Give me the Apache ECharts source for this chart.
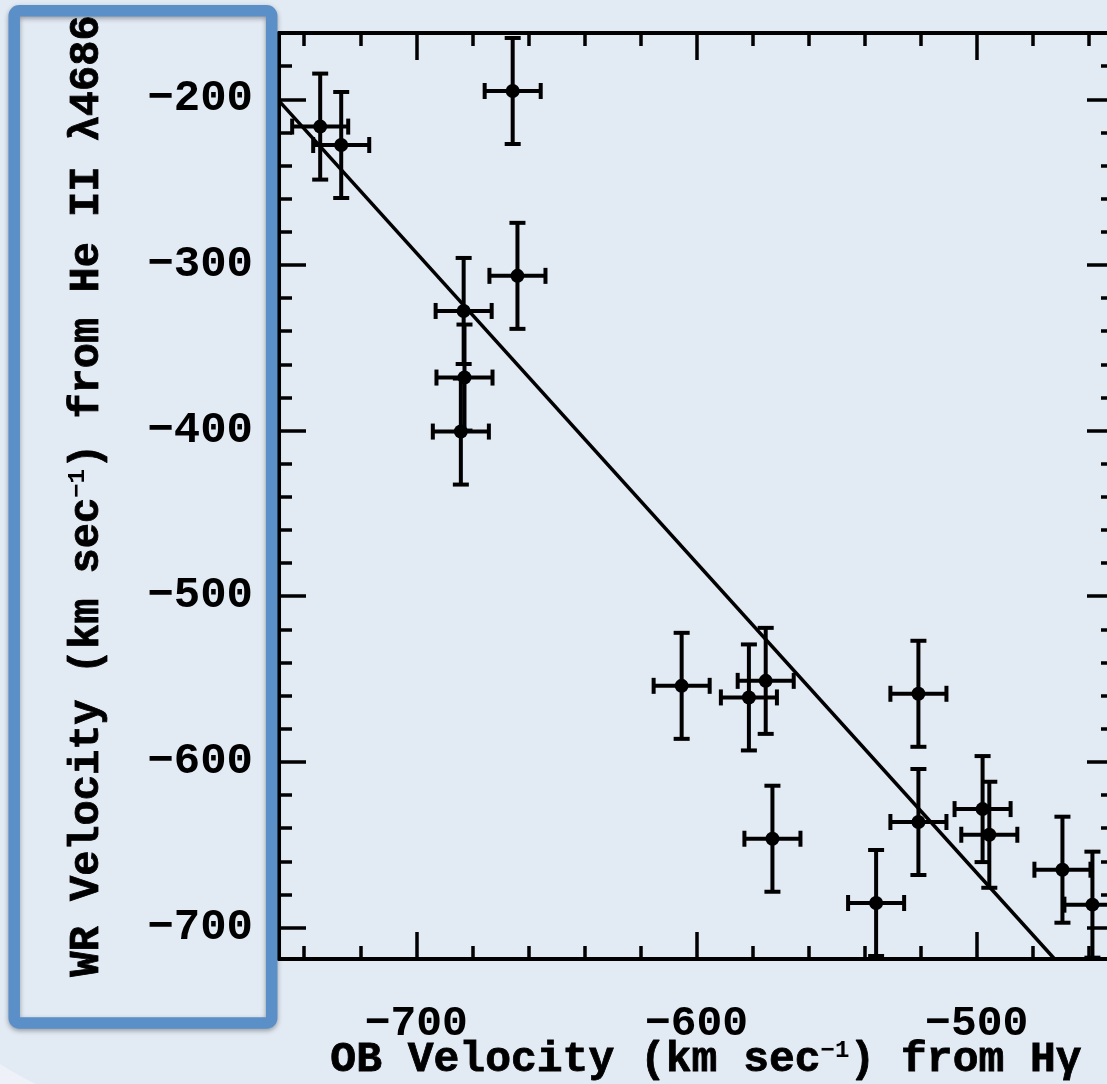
<!DOCTYPE html>
<html><head><meta charset="utf-8">
<script src="https://cdn.jsdelivr.net/npm/echarts@6/dist/echarts.min.js"></script>
<style>html,body{margin:0;padding:0;background:#e2eaf4;} #c{width:1107px;height:1084px;}</style>
</head><body><div id="c"></div>
<script>
// ---- data ----
const obVelocity = [-734.3, -726.8, -665.6, -663.9, -683.1, -682.8, -684.1, -605.3, -581.3, -575.3, -572.9, -535.9, -520.8, -520.8, -497.9, -495.5, -469.4, -458.7];
const wrVelocity = [-216.5, -227.6, -195.0, -306.6, -327.8, -368.0, -400.6, -554.1, -561.1, -551.1, -646.4, -685.2, -558.9, -636.3, -628.5, -644.0, -665.1, -686.2];
const obError = [10, 10, 10, 10, 10, 10, 10, 10, 10, 10, 10, 10, 10, 10, 10, 10, 10, 10];
const wrError = [32, 32, 32, 32, 32, 32, 32, 32, 32, 32, 32, 32, 32, 32, 32, 32, 32, 32];
const fitLine = [[-749, -201], [-472.2, -719]];
const xRange = [-749, -451];
const yRange = [-719, -160];
const xMajorTicks = [-700, -600, -500];
const xMinorTicks = [-740, -720, -680, -660, -640, -620, -580, -560, -540, -520, -480, -460];
const yMajorTicks = [-700, -600, -500, -400, -300, -200];
const yMinorTicks = [-680, -660, -640, -620, -580, -560, -540, -520, -480, -460, -440, -420, -380, -360, -340, -320, -280, -260, -240, -220, -180];
const xTitle = '{n|OB Velocity (km sec}{s|−1}{n|) from Hγ}';
const yTitle = '{n|WR Velocity (km sec}{s|−1}{n|) from He II λ4686}';

const FONT = "'Liberation Mono', 'DejaVu Sans Mono', monospace";
const fmt = v => String(v).replace('-', '−');

function xAxisDef(pos, ticks, len, withLine, withLabel) {
  return {
    type: 'value', position: pos, min: xRange[0], max: xRange[1],
    axisLine: { show: withLine, onZero: false, lineStyle: { color: '#000', width: 4 } },
    axisTick: { show: true, inside: true, length: len, customValues: ticks, lineStyle: { color: '#000', width: 3.5 } },
    axisLabel: withLabel ? { show: true, customValues: ticks, formatter: fmt, margin: 44, color: '#000', fontFamily: FONT, fontWeight: 'bold', fontSize: 43 } : { show: false },
    splitLine: { show: false }
  };
}
function yAxisDef(pos, ticks, len, withLine, withLabel) {
  return {
    type: 'value', position: pos, min: yRange[0], max: yRange[1],
    axisLine: { show: withLine, onZero: false, lineStyle: { color: '#000', width: 4 } },
    axisTick: { show: true, inside: true, length: len, customValues: ticks, lineStyle: { color: '#000', width: 3.5 } },
    axisLabel: withLabel ? { show: true, customValues: ticks, formatter: fmt, margin: 26, color: '#000', fontFamily: FONT, fontWeight: 'bold', fontSize: 44 } : { show: false },
    splitLine: { show: false }
  };
}

const points = obVelocity.map((x, i) => [x, wrVelocity[i], obError[i], wrError[i]]);

const chart = echarts.init(document.getElementById('c'), null, { renderer: 'canvas' });
chart.setOption({
  backgroundColor: '#e2eaf4',
  animation: false,
  grid: { left: 279, top: 33, width: 835, height: 926, containLabel: false, outerBoundsMode: 'none' },
  xAxis: [
    xAxisDef('bottom', xMajorTicks, 27, true, true),
    xAxisDef('bottom', xMinorTicks, 13, false, false),
    xAxisDef('top', xMajorTicks, 27, true, false),
    xAxisDef('top', xMinorTicks, 13, false, false)
  ],
  yAxis: [
    yAxisDef('left', yMajorTicks, 27, true, true),
    yAxisDef('left', yMinorTicks, 13, false, false),
    yAxisDef('right', yMajorTicks, 27, true, false),
    yAxisDef('right', yMinorTicks, 13, false, false)
  ],
  series: [
    {
      type: 'line', data: fitLine, xAxisIndex: 0, yAxisIndex: 0,
      symbol: 'none', lineStyle: { color: '#000', width: 3.5 }, z: 3
    },
    {
      type: 'custom', data: points, xAxisIndex: 0, yAxisIndex: 0, z: 4, clip: false,
      renderItem: function (params, api) {
        const x = api.value(0), y = api.value(1), ex = api.value(2), ey = api.value(3);
        const c = api.coord([x, y]);
        const l = api.coord([x - ex, y]), r = api.coord([x + ex, y]);
        const t = api.coord([x, y + ey]), b = api.coord([x, y - ey]);
        const cap = 8;
        const st = { stroke: '#000', lineWidth: 4 };
        return {
          type: 'group', children: [
            { type: 'line', shape: { x1: l[0], y1: c[1], x2: r[0], y2: c[1] }, style: st },
            { type: 'line', shape: { x1: c[0], y1: t[1], x2: c[0], y2: b[1] }, style: st },
            { type: 'line', shape: { x1: l[0], y1: c[1] - cap, x2: l[0], y2: c[1] + cap }, style: st },
            { type: 'line', shape: { x1: r[0], y1: c[1] - cap, x2: r[0], y2: c[1] + cap }, style: st },
            { type: 'line', shape: { x1: c[0] - cap, y1: t[1], x2: c[0] + cap, y2: t[1] }, style: st },
            { type: 'line', shape: { x1: c[0] - cap, y1: b[1], x2: c[0] + cap, y2: b[1] }, style: st },
            { type: 'circle', shape: { cx: c[0], cy: c[1], r: 7 }, style: { fill: '#000' } }
          ]
        };
      }
    }
  ],
  graphic: [
    {
      type: 'polygon', z: 1, silent: true,
      shape: { points: [[0, 1064], [10, 1070], [22, 1077], [36, 1084], [0, 1084]] },
      style: { fill: '#eef2f8' }
    },
    {
      type: 'rect', z: 100, silent: true,
      shape: { x: 14.2, y: 10.8, width: 257.5, height: 1012.2, r: 5 },
      style: { fill: 'rgba(0,0,0,0)', stroke: '#5b8fc8', lineWidth: 11.5, shadowBlur: 5, shadowColor: 'rgba(0,0,0,0.35)', shadowOffsetY: 2 }
    },
    {
      type: 'text', z: 101, silent: true,
      x: 87, y: 496, rotation: Math.PI / 2,
      style: {
        text: yTitle, align: 'center', verticalAlign: 'middle',
        rich: {
          n: { fontFamily: FONT, fontWeight: 'bold', fontSize: 42, fill: '#000', stroke: '#000', lineWidth: 0.8 },
          s: { fontFamily: FONT, fontWeight: 'bold', fontSize: 24, fill: '#000', verticalAlign: 'top', padding: [0, 0, 14, 0] }
        }
      }
    },
    {
      type: 'text', z: 101, silent: true,
      x: 706, y: 1060,
      style: {
        text: xTitle, align: 'center', verticalAlign: 'middle',
        rich: {
          n: { fontFamily: FONT, fontWeight: 'bold', fontSize: 43, fill: '#000', stroke: '#000', lineWidth: 0.8 },
          s: { fontFamily: FONT, fontWeight: 'bold', fontSize: 24, fill: '#000', verticalAlign: 'top', padding: [0, 0, 14, 0] }
        }
      }
    }
  ]
});
</script>
</body></html>
